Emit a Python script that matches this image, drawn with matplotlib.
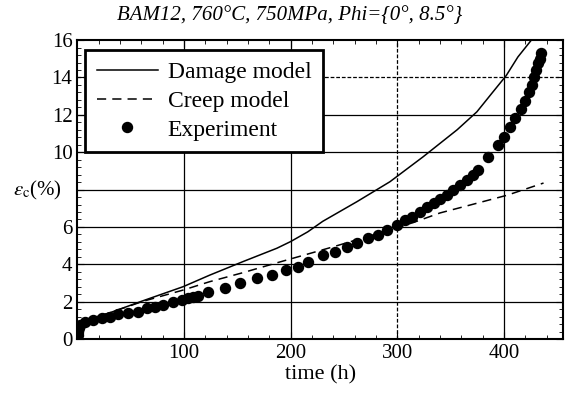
import matplotlib
matplotlib.use("Agg")
import matplotlib.pyplot as plt
from matplotlib.ticker import MultipleLocator

# data
exp_t = [0, 0.5, 1, 1.5, 2, 7, 14.5, 23, 30.5, 38, 47, 57, 65, 73, 80, 90, 98,
         104, 108, 113, 122.5, 138, 152.5, 168, 182.5, 195.5, 207, 216, 230,
         241.5, 253, 262, 272.5, 282, 290, 299.5, 307, 314, 321, 328, 334, 340,
         346.5, 352, 359, 365, 371, 376, 385, 394.5, 400, 406, 410, 416, 420,
         423, 426, 428, 430, 432, 434, 435]
exp_eps = [0.0, 0.2, 0.4, 0.6, 0.75, 0.9, 1.0, 1.12, 1.2, 1.33, 1.4, 1.46, 1.64,
           1.73, 1.82, 2.0, 2.09, 2.18, 2.23, 2.3, 2.53, 2.72, 3.0, 3.26, 3.43,
           3.7, 3.87, 4.14, 4.49, 4.67, 4.94, 5.13, 5.4, 5.56, 5.83, 6.1, 6.37,
           6.54, 6.81, 7.06, 7.28, 7.49, 7.7, 7.97, 8.24, 8.5, 8.77, 9.04, 9.75,
           10.38, 10.82, 11.36, 11.82, 12.3, 12.75, 13.23, 13.59, 14.03, 14.4,
           14.76, 15.0, 15.3]

dmg_t = [0, 1, 3, 7, 30.5, 61.5, 99, 124, 155, 187, 200, 216, 230, 262, 293,
         324, 356, 374.5, 388.5, 402, 413, 427]
dmg_eps = [0.5, 0.75, 0.88, 1.0, 1.41, 2.05, 2.8, 3.42, 4.14, 4.86, 5.22, 5.74,
           6.3, 7.35, 8.42, 9.75, 11.2, 12.16, 13.15, 14.1, 15.1, 16.1]

crp_t = [0, 1, 3, 7, 30.5, 61.5, 99, 124, 155, 187, 216, 240, 270, 300, 318,
         340, 368, 403, 437]
crp_eps = [0.5, 0.75, 0.88, 1.0, 1.41, 2.02, 2.62, 3.07, 3.55, 4.08, 4.55,
           4.94, 5.45, 5.95, 6.3, 6.75, 7.17, 7.7, 8.35]

y_ticks = [0, 2, 4, 6, 8, 10, 12, 14, 16]
y_ticklabels = ['0', '2', '4', '6', '', '10', '12', '14', '16']  # 8 replaced by the axis label

plt.rcParams['font.family'] = ['Liberation Serif', 'DejaVu Serif']
plt.rcParams['mathtext.fontset'] = 'stix'

fig = plt.figure(figsize=(5.65, 4.09), dpi=100)
ax = fig.add_axes([0.137, 0.171, 0.996 - 0.137, 0.902 - 0.171])

# grid (scanned original: some lines dashed)
for x in [100, 200, 400]:
    ax.axvline(x, color='black', lw=0.9, zorder=0)
ax.axvline(300, color='black', lw=0.9, ls=(0, (3, 1.5)), zorder=0)
for y in [2, 4, 6, 8, 10, 12]:
    ax.axhline(y, color='black', lw=0.9, zorder=0)
ax.axhline(14, color='black', lw=0.9, ls=(0, (3, 1.5)), zorder=0)

ax.plot(dmg_t, dmg_eps, color='black', lw=1.1, label='Damage model')
ax.plot(crp_t, crp_eps, color='black', lw=1.1, ls=(0, (6, 4)), label='Creep model')
ax.plot(exp_t, exp_eps, 'o', color='black', ms=7.2, label='Experiment')

ax.set_xlim(0, 455)
ax.set_ylim(0, 16)
ax.set_xticks([100, 200, 300, 400])
ax.set_yticks(y_ticks)
ax.set_yticklabels(y_ticklabels)
ax.xaxis.set_minor_locator(MultipleLocator(20))
ax.yaxis.set_minor_locator(MultipleLocator(0.4))
ax.tick_params(which='both', direction='in', top=True, right=True, labelsize=15)
ax.tick_params(which='major', length=5)
ax.tick_params(which='minor', length=3)
for s in ax.spines.values():
    s.set_linewidth(1.5)

ax.set_xlabel('time (h)', fontsize=16, labelpad=2)
fig.text(0.066, 0.535, r'$\varepsilon_{\rm c}$(%)', fontsize=15, ha='center', va='center')
fig.text(0.513, 0.962, 'BAM12, 760°C, 750MPa, Phi={0°, 8.5°}', fontsize=15,
         style='italic', ha='center', va='center')

leg = ax.legend(loc='upper left', bbox_to_anchor=(0.0155, 0.967), fontsize=17,
                frameon=True, fancybox=False, edgecolor='black', framealpha=1,
                handlelength=2.6, handletextpad=0.4, labelspacing=0.3,
                borderpad=0.5, borderaxespad=0)
leg.get_frame().set_linewidth(2)

fig.savefig('out.png', dpi=100)
